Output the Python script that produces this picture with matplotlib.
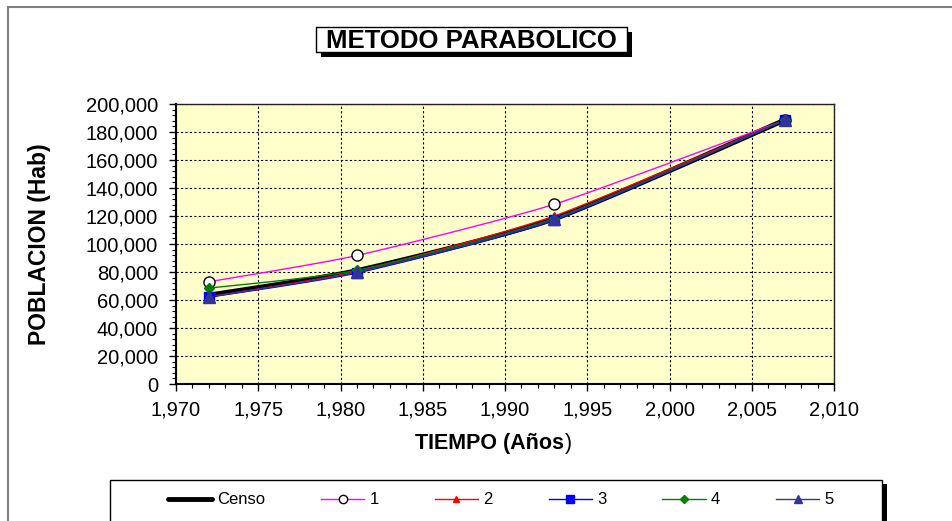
import matplotlib.pyplot as plt
import matplotlib.patches as mpatches
from matplotlib.ticker import MultipleLocator, FuncFormatter
import numpy as np

plt.rcParams['font.family'] = ['Liberation Sans', 'DejaVu Sans']

# Census years and population
years = [1972, 1981, 1993, 2007]
censo = [63500, 81000, 118000, 188500]

# Parabolic projections (fits 1..5)
proy_1 = [73000, 91800, 128400, 188500]
proy_2 = [62300, 80500, 120000, 188500]
proy_3 = [62000, 79300, 117000, 188500]
proy_4 = [68500, 81200, 118200, 188500]
proy_5 = [62200, 79800, 117500, 188500]


def smooth(x, y, n=40):
    # Catmull-Rom style smoothing between the data points
    x = np.asarray(x, float)
    y = np.asarray(y, float)
    px = np.concatenate([[x[0]], x, [x[-1]]])
    py = np.concatenate([[y[0]], y, [y[-1]]])
    xs, ys = [], []
    for i in range(1, len(px) - 2):
        t = np.linspace(0, 1, n)
        for p, out in ((px, xs), (py, ys)):
            p0, p1, p2, p3 = p[i - 1], p[i], p[i + 1], p[i + 2]
            m1 = (p2 - p0) / 2 * 0.6
            m2 = (p3 - p1) / 2 * 0.6
            h00 = 2 * t**3 - 3 * t**2 + 1
            h10 = t**3 - 2 * t**2 + t
            h01 = -2 * t**3 + 3 * t**2
            h11 = t**3 - t**2
            out.extend(h00 * p1 + h10 * m1 + h01 * p2 + h11 * m2)
    return np.array(xs), np.array(ys)


fig = plt.figure(figsize=(9.53, 5.21), dpi=100)
W, H = 953, 521

# outer chart border
fig.add_artist(mpatches.Rectangle((8 / W, -0.1), 2, 1 - 7 / H + 0.1,
                                  transform=fig.transFigure, fill=False,
                                  edgecolor='#808080', linewidth=1.5))

ax = fig.add_axes([176 / W, 1 - 384 / H, (834 - 176) / W, (384 - 104) / H])
ax.set_facecolor('#FFFFCC')

series = [
    (proy_1, '#FF00FF', 'o', '1', dict(markerfacecolor='white', markeredgecolor='black', markersize=8)),
    (proy_2, '#FF0000', '^', '2', dict(markersize=6)),
    (proy_3, '#0000FF', 's', '3', dict(markersize=7)),
    (proy_4, '#008000', 'D', '4', dict(markersize=5)),
    (proy_5, '#333399', '^', '5', dict(markersize=8)),
]

handles = []
xs, ys = smooth(years, censo)
h, = ax.plot(xs, ys, color='black', linewidth=3.5, solid_capstyle='round', zorder=3, label='Censo')
handles.append(h)
for vals, col, mk, lab, kw in series:
    sx, sy = smooth(years, vals)
    ax.plot(sx, sy, color=col, linewidth=1, zorder=4)
    ax.plot(years, vals, linestyle='none', marker=mk, color=col, zorder=5, **kw)
    hh, = ax.plot([], [], color=col, linewidth=1, marker=mk, label=lab,
                  **{k: (v * 0.75 if k == 'markersize' else v) for k, v in kw.items()})
    handles.append(hh)

ax.set_xlim(1970, 2010)
ax.set_ylim(0, 200000)
ax.xaxis.set_major_locator(MultipleLocator(5))
ax.xaxis.set_minor_locator(MultipleLocator(1))
ax.yaxis.set_major_locator(MultipleLocator(20000))
ax.yaxis.set_minor_locator(MultipleLocator(4000))
fmt = FuncFormatter(lambda v, p: f'{int(v):,}')
ax.xaxis.set_major_formatter(fmt)
ax.yaxis.set_major_formatter(fmt)
ax.tick_params(axis='both', which='major', direction='out', length=5, width=1,
               labelsize=14.5, colors='black')
ax.tick_params(axis='y', which='major', pad=8)
ax.tick_params(axis='x', which='major', pad=7)
ax.tick_params(axis='both', which='minor', direction='out', length=3, width=0.8)
ax.grid(True, which='major', color='black', linestyle=(0, (2, 2)), linewidth=0.8)
ax.set_axisbelow(True)
for side in ['left', 'bottom']:
    ax.spines[side].set_linewidth(1.5)
for side in ['top', 'right']:
    ax.spines[side].set_linewidth(1)
    ax.spines[side].set_color('#222222')

# axis titles
fig.text(40 / W, 1 - 244 / H, 'POBLACION (Hab)', rotation=90, ha='center', va='center',
         fontsize=16.5, fontweight='bold')
xt = fig.text(490 / W, 1 - 444 / H, 'TIEMPO (Años', ha='center', va='center',
              fontsize=15.5, fontweight='bold')
ax.annotate(')', xy=(1, 0.5), xycoords=xt, ha='left', va='center', fontsize=15.5,
            annotation_clip=False)

# title box with shadow
tx0, ty0, tw, th = 316, 27, 311, 25
fig.add_artist(mpatches.Rectangle(((tx0 + 5) / W, 1 - (ty0 + th + 5) / H), tw / W, th / H,
                                  transform=fig.transFigure, facecolor='black', edgecolor='none'))
fig.add_artist(mpatches.Rectangle((tx0 / W, 1 - (ty0 + th) / H), tw / W, th / H,
                                  transform=fig.transFigure, facecolor='white',
                                  edgecolor='black', linewidth=1))
fig.text((tx0 + tw / 2) / W, 1 - (ty0 + th / 2 + 1) / H, 'METODO PARABOLICO',
         ha='center', va='center', fontsize=18.5, fontweight='bold')

# legend box with shadow
lx0, ly0, lx1 = 110, 480, 882
fig.add_artist(mpatches.Rectangle(((lx0 + 5) / W, -0.05), (lx1 - lx0) / W, 1 - (ly0 + 4) / H + 0.05,
                                  transform=fig.transFigure, facecolor='black', edgecolor='none'))
fig.add_artist(mpatches.Rectangle((lx0 / W, -0.05), (lx1 - lx0) / W, 1 - ly0 / H + 0.05,
                                  transform=fig.transFigure, facecolor='white',
                                  edgecolor='black', linewidth=1))
leg = fig.legend(handles=handles, loc='center left', bbox_to_anchor=(160 / W, 1 - 500 / H),
                 ncol=6, frameon=False, fontsize=12, handlelength=2.6, handletextpad=0.3,
                 columnspacing=3.37, borderpad=0)

fig.savefig('out.png', dpi=100, facecolor='white')
